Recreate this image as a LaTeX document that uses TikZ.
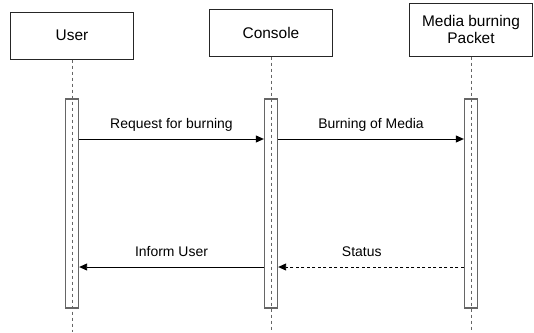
\documentclass[tikz,border=0pt]{standalone}
\usepackage{fontspec}
\setmainfont{Liberation Sans}
\usetikzlibrary{arrows.meta}

\tikzset{
  actor/.style={draw=black!85, line width=1bp, minimum width=123bp, inner sep=0pt,
    align=center, font=\fontsize{15.5}{18}\selectfont},
  actbar/.style={draw=black!60, line width=1.3bp, minimum width=13bp, minimum height=209bp, inner sep=0pt},
  life/.style={draw=black!60, line width=0.9bp, dash pattern=on 3bp off 3bp},
  msg/.style={-{Triangle[length=8bp,width=7bp]}, line width=0.9bp},
  reply/.style={msg, dash pattern=on 3bp off 2.5bp},
  lbl/.style={font=\fontsize{14}{17}\selectfont, inner sep=2bp, text depth=3bp, above=5bp}
}

\begin{document}
\begin{tikzpicture}[x=1bp,y=-1bp]
\useasboundingbox (0,0) rectangle (534,332);
\node[actor, minimum height=47bp] (User) at (72,35.5) {User};
\node[actor, minimum height=47bp] (Console) at (271,32.5) {Console};
\node[actor, minimum height=53bp] (Media) at (471,29.5) {Media burning\\Packet};
\coordinate (UserEnd) at (72,332);
\coordinate (ConsoleEnd) at (271,332);
\coordinate (MediaEnd) at (471,332);
\draw[life] (User.south) -- (UserEnd);
\draw[life] (Console.south) -- (ConsoleEnd);
\draw[life] (Media.south) -- (MediaEnd);
\node[actbar] (UserBar) at (72,203.5) {};
\node[actbar] (ConsoleBar) at (271,203.5) {};
\node[actbar] (MediaBar) at (471,203.5) {};
\draw[msg] (UserBar.east |- 0,139) -- node[lbl, midway] {Request for burning} (ConsoleBar.west |- 0,139);
\draw[msg] (ConsoleBar.east |- 0,139) -- node[lbl, midway] {Burning of Media} (MediaBar.west |- 0,139);
\draw[reply] (MediaBar.west |- 0,267) -- node[lbl, pos=0.55] {Status} (ConsoleBar.east |- 0,267);
\draw[msg] (ConsoleBar.west |- 0,267) -- node[lbl, midway] {Inform User} (UserBar.east |- 0,267);
\end{tikzpicture}
\end{document}
